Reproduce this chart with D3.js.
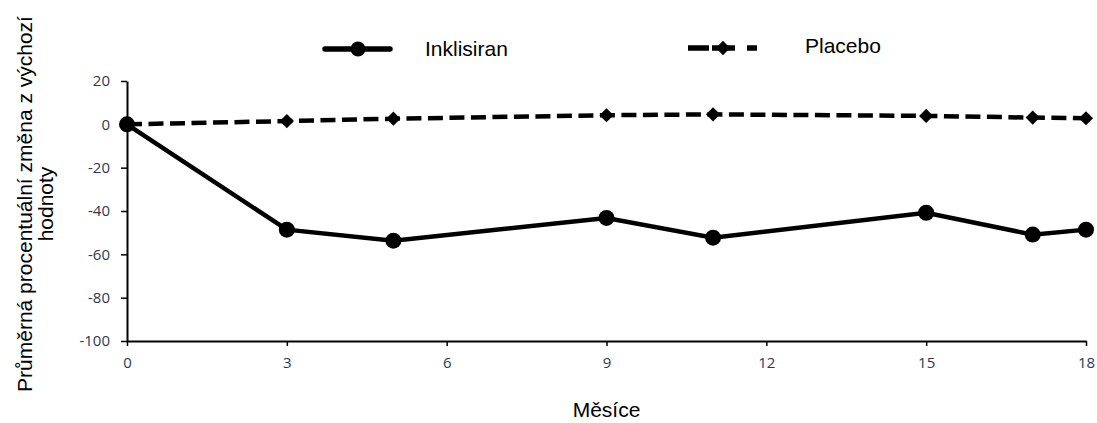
<!DOCTYPE html>
<html lang="cs">
<head>
<meta charset="utf-8">
<title>Inklisiran vs placebo</title>
<script src="https://cdn.jsdelivr.net/npm/d3@7"></script>
<style>
  body { margin: 0; background: #fff; }
  .lbl { font-family: "Liberation Sans", Arial, sans-serif; font-size: 21px; fill: #000; }
</style>
</head>
<body>
<script>
// data
var months = [0, 3, 5, 9, 11, 15, 17, 18];
var inklisiran = [0, -48.6, -53.7, -43.2, -52.3, -40.8, -50.9, -48.6];
var placebo = [0, 1.5, 2.6, 4.2, 4.6, 3.9, 3.1, 2.8];
var xTicks = [0, 3, 6, 9, 12, 15, 18];
var yTicks = [20, 0, -20, -40, -60, -80, -100];

var w = 1097, h = 423;
var svg = d3.select("body").append("svg").attr("width", w).attr("height", h);

var x = d3.scaleLinear().domain([0, 18]).range([127, 1086]);
var y = d3.scaleLinear().domain([-100, 20]).range([341, 81]);

// axes (hyphen minus like the original)
var fmt = function(d) { return String(d); };
svg.append("g")
  .attr("transform", "translate(0," + y(-100) + ")")
  .call(d3.axisBottom(x).tickValues(xTicks).tickFormat(fmt).tickSize(5).tickPadding(11).tickSizeOuter(0));
svg.append("g")
  .attr("transform", "translate(" + x(0) + ",0)")
  .call(d3.axisLeft(y).tickValues(yTicks).tickFormat(fmt).tickSize(6).tickPadding(11).tickSizeOuter(0));
svg.selectAll(".domain").attr("stroke", "#000").attr("stroke-width", 2);
svg.selectAll(".tick line").attr("stroke", "#000").attr("stroke-width", 1.5);
svg.selectAll(".tick text")
  .attr("font-size", 15)
  .attr("font-family", "Open Sans")
  .style("font-size", "15px", "important")
  .style("font-family", "'Open Sans', sans-serif", "important")
  .attr("fill", "#2d3952");

function series(vals) {
  return months.map(function(m, i) { return [m, vals[i]]; });
}
var line = d3.line().x(function(d) { return x(d[0]); }).y(function(d) { return y(d[1]); });
var diamond = d3.symbol().type(d3.symbolDiamond2).size(128);

// placebo
svg.append("path").datum(series(placebo))
  .attr("d", line).attr("fill", "none").attr("stroke", "#000")
  .attr("stroke-width", 4.5).attr("stroke-dasharray", "15,6.5");
svg.selectAll(".pl").data(series(placebo)).enter().append("path")
  .attr("class", "pl")
  .attr("d", diamond)
  .attr("transform", function(d) { return "translate(" + x(d[0]) + "," + y(d[1]) + ")"; })
  .attr("fill", "#000");

// inklisiran
svg.append("path").datum(series(inklisiran))
  .attr("d", line).attr("fill", "none").attr("stroke", "#000").attr("stroke-width", 4.5);
svg.selectAll(".ink").data(series(inklisiran)).enter().append("circle")
  .attr("class", "ink")
  .attr("cx", function(d) { return x(d[0]); })
  .attr("cy", function(d) { return y(d[1]); })
  .attr("r", 8).attr("fill", "#000");

// legend
svg.append("line").attr("x1", 325).attr("x2", 390).attr("y1", 49).attr("y2", 49)
  .attr("stroke", "#000").attr("stroke-width", 5.5).attr("stroke-linecap", "round");
svg.append("circle").attr("cx", 358).attr("cy", 49).attr("r", 7.5).attr("fill", "#000");
svg.append("text").attr("class", "lbl").attr("x", 425).attr("y", 56).text("Inklisiran");

svg.append("line").attr("x1", 688).attr("x2", 757).attr("y1", 48).attr("y2", 48)
  .attr("stroke", "#000").attr("stroke-width", 5.5).attr("stroke-dasharray", "21,3,23,12,10,99");
svg.append("path").attr("d", d3.symbol().type(d3.symbolDiamond2).size(130))
  .attr("transform", "translate(723,48)").attr("fill", "#000");
svg.append("text").attr("class", "lbl").attr("x", 805).attr("y", 53).text("Placebo");

// axis titles
svg.append("text").attr("class", "lbl").attr("x", x(9)).attr("y", 417)
  .attr("text-anchor", "middle").text("Měsíce");
var yt = svg.append("text").attr("class", "lbl").attr("text-anchor", "middle")
  .attr("transform", "translate(32,204) rotate(-90)");
yt.append("tspan").attr("x", 0).attr("y", 0).text("Průměrná procentuální změna z výchozí");
yt.append("tspan").attr("x", 0).attr("y", 21).text("hodnoty");
</script>
</body>
</html>
